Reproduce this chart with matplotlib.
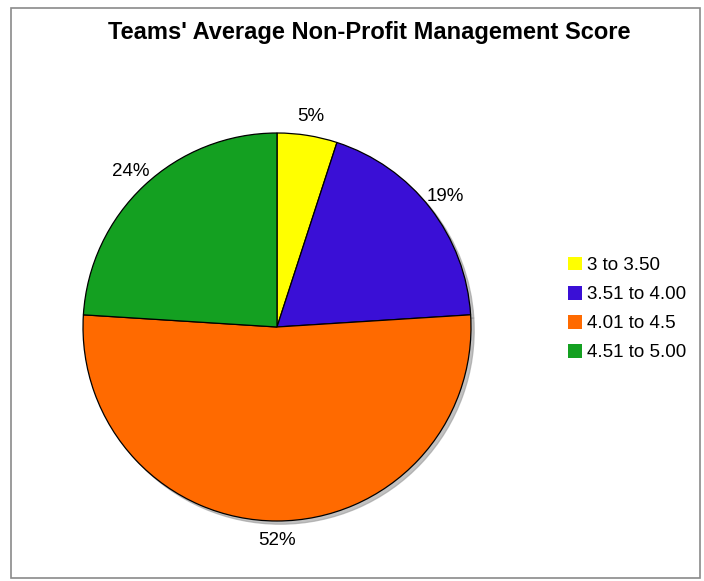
import matplotlib.pyplot as plt
from matplotlib.patches import Rectangle

categories = ["3 to 3.50", "3.51 to 4.00", "4.01 to 4.5", "4.51 to 5.00"]
values = [5, 19, 52, 24]
colors = ["#FFFF00", "#3A0FD6", "#FF6A00", "#14A021"]
title = "Teams' Average Non-Profit Management Score"

W, H = 704, 581
fig = plt.figure(figsize=(W / 100, H / 100), dpi=100)
fig.patch.set_facecolor("white")

# border
fig.patches.append(Rectangle((11 / W, 1 - 578 / H), (700 - 11) / W, (578 - 8) / H,
                             transform=fig.transFigure, fill=False,
                             edgecolor="#8a8a8a", linewidth=1.2))

cx, cy, r = 277, 327, 194
ax = fig.add_axes([(cx - r) / W, (H - cy - r) / H, 2 * r / W, 2 * r / H])
wedges, texts = ax.pie(values, colors=colors, startangle=90, counterclock=False,
                       labels=[f"{v}%" for v in values], labeldistance=1.10,
                       wedgeprops=dict(edgecolor="black", linewidth=0.9),
                       textprops=dict(fontsize=13.5, family="Liberation Sans"),
                       shadow=dict(ox=0.012, oy=-0.012, color="#999999", alpha=0.6),
                       radius=1.0)
for t in texts:
    t.set_ha("center")
    t.set_va("center")
ax.set_xlim(-1, 1)
ax.set_ylim(-1, 1)
ax.set_aspect("auto")

fig.text(369 / W, 1 - 32 / H, title, ha="center", va="center",
         fontsize=17, fontweight="bold", family="Liberation Sans")

leg = fig.legend(wedges, categories, loc="center left",
                 bbox_to_anchor=(551 / W, 1 - 309 / H), frameon=False,
                 handlelength=0.75, handleheight=0.75,
                 handletextpad=0.25, labelspacing=0.62,
                 prop=dict(family="Liberation Sans", size=13.5))
for h in leg.legend_handles:
    h.set_edgecolor("none")

fig.savefig("out.png", dpi=100)
